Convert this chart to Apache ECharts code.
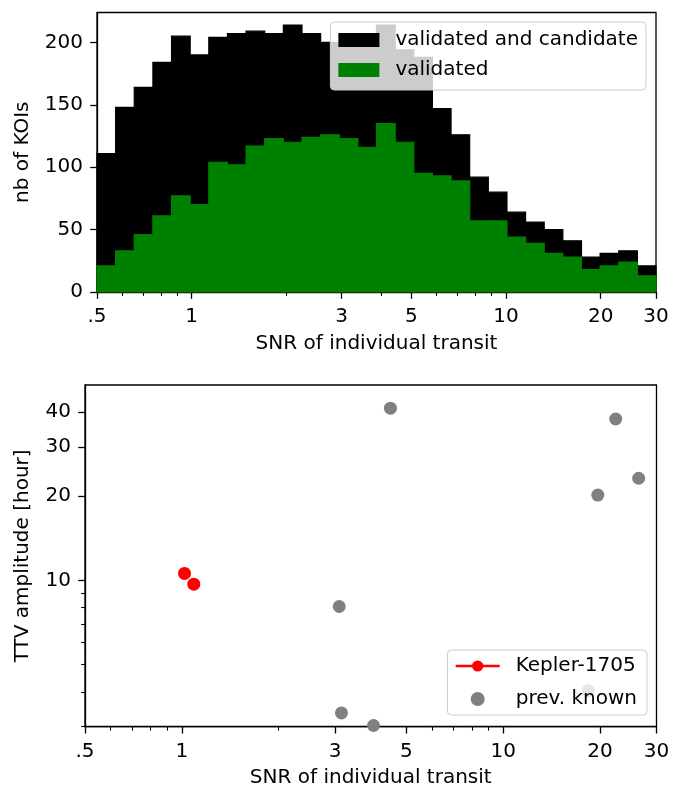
<!DOCTYPE html>
<html>
<head>
<meta charset="utf-8">
<script src="https://cdn.jsdelivr.net/npm/echarts@6/dist/echarts.min.js"></script>
<style>
html, body { margin: 0; padding: 0; background: #fff; }
#main { width: 683px; height: 787px; }
</style>
</head>
<body>
<div id="main"></div>
<script>
// histogram bins (log spaced from .5 to 30)
var binEdges = [0.5, 0.5731, 0.6569, 0.7530, 0.8631, 0.9894, 1.1341, 1.2999, 1.4900, 1.7079,
    1.9577, 2.2440, 2.5722, 2.9484, 3.3796, 3.8730, 4.4394, 5.0886, 5.8328, 6.6858,
    7.6636, 8.7844, 10.069, 11.541, 13.229, 15.164, 17.381, 19.923, 22.837, 26.177, 30];
var allCounts = [111, 148, 164, 184, 205, 190, 204, 207, 209, 207, 214, 207, 200, 198, 196,
    214, 194, 188, 147, 126, 92, 80, 64, 56, 50, 41, 28, 31, 33, 21];
var validatedCounts = [21, 33, 46, 61, 77, 70, 104, 102, 117, 123, 120, 124, 126, 123, 116,
    135, 120, 95, 93, 89, 57, 57, 44, 39, 31, 28, 18, 21, 24, 13];

var xTickValues = [0.5, 1, 3, 5, 10, 20, 30];
var xTickLabels = ['.5', '1', '3', '5', '10', '20', '30'];
var xMinorTicks = [0.6, 0.7, 0.8, 0.9, 2, 4, 6, 7, 8, 9];
var histYTicks = [0, 50, 100, 150, 200];
var ttvYTicks = [10, 20, 30, 40];
var ttvYMinorTicks = [3, 4, 5, 6, 7, 8, 9];

// TTV scatter
var keplerSNR = [1.02, 1.09];
var keplerTTV = [10.6, 9.7];
var knownSNR = [4.46, 22.4, 26.4, 19.7, 3.09, 3.14, 3.95, 18.4];
var knownTTV = [41.3, 37.8, 23.2, 20.2, 8.07, 3.36, 3.03, 4.03];

var chartDom = document.getElementById('main');
var myChart = echarts.init(chartDom);
var option;

var FONT = 'DejaVu Sans';
var FS = 20;
var INK = '#000';

function histData(counts) {
    return counts.map(function (c, i) {
        return [binEdges[i], binEdges[i + 1], c];
    });
}

function renderBin(params, api) {
    var p0 = api.coord([api.value(0), api.value(2)]);
    var p1 = api.coord([api.value(1), 0]);
    var color = api.visual('color');
    return {
        type: 'rect',
        shape: { x: p0[0], y: p0[1], width: p1[0] - p0[0], height: p1[1] - p0[1] },
        style: { fill: color, stroke: color, lineWidth: 1.2 }
    };
}

function xLabel(v) {
    for (var i = 0; i < xTickValues.length; i++) {
        if (Math.abs(Math.log(v / xTickValues[i])) < 1e-6) return xTickLabels[i];
    }
    return '';
}

function majorX(gridIndex, gap) {
    return {
        type: 'log', logBase: 10, gridIndex: gridIndex, min: 0.5, max: 30,
        name: 'SNR of individual transit', nameLocation: 'middle', nameGap: gap,
        nameTextStyle: { fontFamily: FONT, fontSize: FS, color: INK },
        axisLine: { show: true, lineStyle: { color: INK, width: 1.3 } },
        axisTick: { show: true, customValues: xTickValues, length: 6.8, lineStyle: { color: INK, width: 1.3 } },
        axisLabel: { customValues: xTickValues, formatter: xLabel, margin: 15, fontFamily: FONT, fontSize: FS, color: INK },
        minorTick: { show: false },
        splitLine: { show: false }
    };
}

function minorX(gridIndex) {
    return {
        type: 'log', logBase: 10, gridIndex: gridIndex, min: 0.5, max: 30, position: 'bottom',
        axisLine: { show: false },
        axisTick: { show: true, customValues: xMinorTicks, length: 3.9, lineStyle: { color: INK, width: 1.1 } },
        axisLabel: { show: false },
        splitLine: { show: false }
    };
}

option = {
    animation: false,
    backgroundColor: '#fff',
    grid: [
        { left: 97, top: 12.5, width: 559, height: 279.5, show: true, borderColor: INK, borderWidth: 1.3, outerBoundsMode: 'none' },
        { left: 85, top: 385, width: 571.5, height: 341.7, show: true, borderColor: INK, borderWidth: 1.3, outerBoundsMode: 'none' }
    ],
    xAxis: [majorX(0, 42), minorX(0), majorX(1, 41), minorX(1)],
    yAxis: [
        {
            type: 'value', gridIndex: 0, min: 0, max: 224,
            name: 'nb of KOIs', nameLocation: 'middle', nameGap: 64,
            nameTextStyle: { fontFamily: FONT, fontSize: FS, color: INK },
            axisLine: { show: true, lineStyle: { color: INK, width: 1.3 } },
            axisTick: { show: true, customValues: histYTicks, length: 6.8, lineStyle: { color: INK, width: 1.3 } },
            axisLabel: { customValues: histYTicks, margin: 14, fontFamily: FONT, fontSize: FS, color: INK },
            splitLine: { show: false }
        },
        {
            type: 'log', logBase: 10, gridIndex: 1, min: 3, max: 50,
            name: 'TTV amplitude [hour]', nameLocation: 'middle', nameGap: 52,
            nameTextStyle: { fontFamily: FONT, fontSize: FS, color: INK },
            axisLine: { show: true, lineStyle: { color: INK, width: 1.3 } },
            axisTick: { show: true, customValues: ttvYTicks, length: 6.8, lineStyle: { color: INK, width: 1.3 } },
            axisLabel: { customValues: ttvYTicks, margin: 14, fontFamily: FONT, fontSize: FS, color: INK },
            splitLine: { show: false }
        },
        {
            type: 'log', logBase: 10, gridIndex: 1, min: 3, max: 50, position: 'left',
            axisLine: { show: false },
            axisTick: { show: true, customValues: ttvYMinorTicks, length: 3.9, lineStyle: { color: INK, width: 1.1 } },
            axisLabel: { show: false },
            splitLine: { show: false }
        }
    ],
    legend: [
        {
            orient: 'vertical', right: 37, top: 22, align: 'left',
            data: [{ name: 'validated and candidate', icon: 'rect' }, { name: 'validated', icon: 'rect' }],
            itemWidth: 41, itemHeight: 14, itemGap: 8,
            padding: [7, 8, 9, 8],
            backgroundColor: 'rgba(255,255,255,0.8)',
            borderColor: '#cccccc', borderWidth: 1, borderRadius: 4,
            textStyle: { fontFamily: FONT, fontSize: FS, color: INK, lineHeight: 22, padding: [0, 0, 0, 11] }
        },
        {
            orient: 'vertical', right: 36, bottom: 72, align: 'left',
            data: ['Kepler-1705', 'prev. known'],
            itemWidth: 44, itemHeight: 14, itemGap: 11,
            padding: [5, 10, 5, 7],
            backgroundColor: 'rgba(255,255,255,0.8)',
            borderColor: '#cccccc', borderWidth: 1, borderRadius: 4,
            lineStyle: { opacity: 1, width: 2.5, color: '#ff0000' },
            textStyle: { fontFamily: FONT, fontSize: FS, color: INK, lineHeight: 22, padding: [0, 0, 0, 11] }
        }
    ],
    series: [
        {
            name: 'validated and candidate',
            type: 'custom',
            xAxisIndex: 0, yAxisIndex: 0,
            renderItem: renderBin,
            encode: { x: [0, 1], y: 2 },
            itemStyle: { color: '#000000' },
            data: histData(allCounts)
        },
        {
            name: 'validated',
            type: 'custom',
            xAxisIndex: 0, yAxisIndex: 0,
            renderItem: renderBin,
            encode: { x: [0, 1], y: 2 },
            itemStyle: { color: '#008000' },
            data: histData(validatedCounts)
        },
        {
            name: 'Kepler-1705',
            type: 'line',
            xAxisIndex: 2, yAxisIndex: 1,
            symbol: 'circle', symbolSize: 13,
            lineStyle: { opacity: 0, width: 2.5, color: '#ff0000' },
            itemStyle: { color: '#ff0000', opacity: 1 },
            data: keplerSNR.map(function (x, i) { return [x, keplerTTV[i]]; }),
            z: 3
        },
        {
            name: 'prev. known',
            type: 'scatter',
            xAxisIndex: 2, yAxisIndex: 1,
            symbol: 'circle', symbolSize: 13,
            itemStyle: { color: '#808080', opacity: 1 },
            data: knownSNR.map(function (x, i) { return [x, knownTTV[i]]; })
        }
    ]
};

option && myChart.setOption(option);

window.addEventListener('resize', myChart.resize);
</script>
</body>
</html>
